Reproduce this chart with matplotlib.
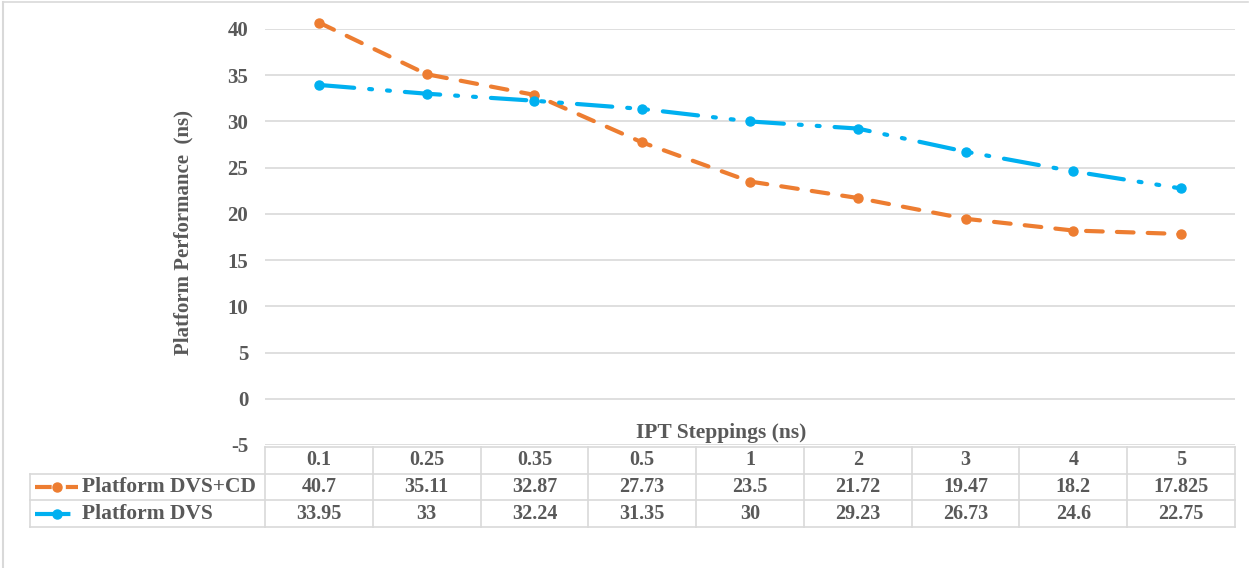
import matplotlib.pyplot as plt
from matplotlib.lines import Line2D

steppings = ['0.1', '0.25', '0.35', '0.5', '1', '2', '3', '4', '5']
dvs_cd = [40.7, 35.11, 32.87, 27.73, 23.5, 21.72, 19.47, 18.2, 17.825]
dvs = [33.95, 33, 32.24, 31.35, 30, 29.23, 26.73, 24.6, 22.75]
dvs_cd_labels = ['40.7', '35.11', '32.87', '27.73', '23.5', '21.72', '19.47', '18.2', '17.825']
dvs_labels = ['33.95', '33', '32.24', '31.35', '30', '29.23', '26.73', '24.6', '22.75']
series_names = ['Platform DVS+CD', 'Platform DVS']

orange = '#ED7D31'
blue = '#00B0F0'
grey_txt = '#595959'
grid_c = '#D9D9D9'

plt.rcParams['font.family'] = ['Liberation Serif', 'DejaVu Serif']
plt.rcParams['font.weight'] = 'bold'
plt.rcParams['axes.unicode_minus'] = False

W, H = 1249, 568
fig = plt.figure(figsize=(W / 100, H / 100), dpi=100)

# chart frame lines (top and left)
fig.add_artist(Line2D([3 / W, 1248 / W], [1 - 2 / H, 1 - 2 / H], color=grid_c, lw=1.2))
fig.add_artist(Line2D([3.5 / W, 3.5 / W], [1 - 2 / H, 0], color=grid_c, lw=1.5))

left, right = 265 / W, 1235 / W
ax = fig.add_axes([left, 1 - 445 / H, right - left, 416 / H])
tab = fig.add_axes([left, 1 - 527 / H, right - left, 80 / H])

styles = [
    dict(color=orange, ls=(0, (4.0, 3.4))),
    dict(color=blue, ls=(0, (8.5, 3.6, 0.7, 3.6, 0.7, 3.6))),
]
x = list(range(len(steppings)))
for vals, st in zip([dvs_cd, dvs], styles):
    ax.plot(x, vals, color=st['color'], ls=st['ls'], lw=3, marker='o', ms=6.5,
            dash_capstyle='round', zorder=3, clip_on=False)

ax.set_xlim(-0.5, len(steppings) - 0.5)
ax.set_ylim(-5, 40)
ax.set_yticks(range(-5, 41, 5))
ax.set_xticks([])
ax.yaxis.grid(True, color=grid_c, lw=1.2)
ax.set_axisbelow(True)
for s in ax.spines.values():
    s.set_visible(False)
ax.tick_params(axis='y', length=0, pad=12, labelsize=15, labelcolor=grey_txt)
for lbl in ax.get_yticklabels():
    lbl.set_fontweight('bold')
ax.set_ylabel('Platform Performance  (ns)', fontsize=15, color=grey_txt,
              fontweight='bold')
ax.yaxis.set_label_coords(-0.074, 0.51)
ax.text(0.47, 0.03, 'IPT Steppings (ns)', transform=ax.transAxes, ha='center',
        va='center', fontsize=15.5, color=grey_txt, fontweight='bold')

# data table under the plot
n = len(steppings)
tab.set_xlim(-0.5, n - 0.5)
tab.set_ylim(3, 0)
tab.axis('off')
leg_left = -0.5 - 235 / 107.8
kw = dict(color=grid_c, lw=1.2, clip_on=False)
tab.plot([-0.5, n - 0.5], [0, 0], **kw)
for r in (1, 2, 3):
    tab.plot([leg_left, n - 0.5], [r, r], **kw)
for k in range(n + 1):
    tab.plot([k - 0.5, k - 0.5], [0, 3], **kw)
tab.plot([leg_left, leg_left], [1, 3], **kw)

tkw = dict(ha='center', va='center', fontsize=14.5, color=grey_txt, fontweight='bold')
for k, s in enumerate(steppings):
    tab.text(k, 0.5, s, **tkw)
for row, labels in enumerate([dvs_cd_labels, dvs_labels], start=1):
    for k, s in enumerate(labels):
        tab.text(k, row + 0.5, s, **tkw)

px = 1 / 107.8
for row, (name, st) in enumerate(zip(series_names, styles), start=1):
    x0 = -0.5 + (35 - 265) * px
    x1 = -0.5 + (78 - 265) * px
    xm = -0.5 + (57 - 265) * px
    tab.plot([x0, xm, x1], [row + 0.5] * 3, color=st['color'], ls=st['ls'], lw=3,
             marker='o', ms=6.5, markevery=[1], clip_on=False)
    tab.text(-0.5 + (82 - 265) * px, row + 0.5, name, ha='left', va='center',
             fontsize=15.5, color=grey_txt, fontweight='bold')

fig.savefig('out.png', dpi=100)
